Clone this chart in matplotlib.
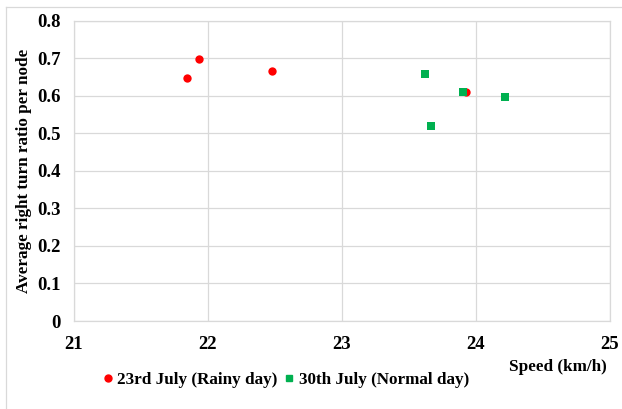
import matplotlib.pyplot as plt
from matplotlib.lines import Line2D

# speed (km/h) vs average right turn ratio per node
rainy_speed = [21.85, 21.94, 22.485, 23.93]
rainy_ratio = [0.648, 0.699, 0.665, 0.609]
normal_speed = [23.62, 23.67, 23.91, 24.22]
normal_ratio = [0.657, 0.520, 0.611, 0.597]

x_ticks = [21, 22, 23, 24, 25]
y_ticks = [0, 0.1, 0.2, 0.3, 0.4, 0.5, 0.6, 0.7, 0.8]
y_tick_labels = ["0", "0.1", "0.2", "0.3", "0.4", "0.5", "0.6", "0.7", "0.8"]

plt.rcParams["font.family"] = "Liberation Serif"
plt.rcParams["font.weight"] = "bold"

fig = plt.figure(figsize=(6.22, 4.09), dpi=100)
ax = fig.add_axes([73.5 / 622, 1 - 321 / 409, (609.5 - 73.5) / 622, (321 - 20.7) / 409])

ax.scatter(rainy_speed, rainy_ratio, s=36, marker="o", color="#ff0000",
           label="23rd July (Rainy day)", zorder=3, linewidths=0)
ax.scatter(normal_speed, normal_ratio, s=38, marker="s", color="#00b050",
           label="30th July (Normal day)", zorder=3, linewidths=0)

ax.set_xlim(21, 25)
ax.set_ylim(0, 0.8)
ax.set_xticks(x_ticks)
ax.set_yticks(y_ticks)
ax.set_yticklabels(y_tick_labels)
ax.tick_params(axis="x", length=0, labelsize=13.5, pad=11)
ax.tick_params(axis="y", length=0, labelsize=13.5, pad=9)
for lab in ax.get_xticklabels() + ax.get_yticklabels():
    lab.set_fontweight("bold")
ax.grid(True, color="#d9d9d9", linewidth=0.9)
ax.set_axisbelow(True)
for sp in ax.spines.values():
    sp.set_color("#d9d9d9")
    sp.set_linewidth(0.9)

ax.set_ylabel("Average right turn ratio per node", fontsize=12.3, fontweight="bold", labelpad=4)
fig.text(607 / 622, 1 - 367 / 409, "Speed (km/h)", ha="right", va="center",
         fontsize=12.3, fontweight="bold")

handles = [
    Line2D([], [], marker="o", color="#ff0000", linestyle="none", markersize=5),
    Line2D([], [], marker="s", color="#00b050", linestyle="none", markersize=5),
]
fig.legend(handles, ["23rd July (Rainy day)", "30th July (Normal day)"],
           loc="center", bbox_to_anchor=(284 / 622, 1 - 380 / 409), ncol=2,
           frameon=False, handletextpad=0.05, columnspacing=0.2, handlelength=1,
           prop={"size": 12.3, "weight": "bold"})

# chart area border
fig.add_artist(Line2D([6 / 622, 6 / 622], [0, 1 - 7 / 409], transform=fig.transFigure,
                      color="#d9d9d9", linewidth=0.9))
fig.add_artist(Line2D([6 / 622, 1], [1 - 7 / 409, 1 - 7 / 409], transform=fig.transFigure,
                      color="#d9d9d9", linewidth=0.9))

fig.savefig("out.png", dpi=100)
